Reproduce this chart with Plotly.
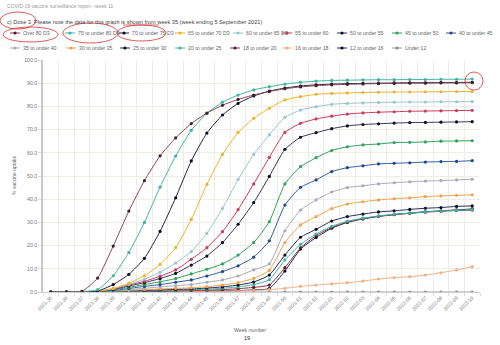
import plotly.graph_objects as go

# ---- data -------------------------------------------------------------
weeks = ["2021-35", "2021-36", "2021-37", "2021-38", "2021-39", "2021-40", "2021-41",
         "2021-42", "2021-43", "2021-44", "2021-45", "2021-46", "2021-47", "2021-48",
         "2021-49", "2021-50", "2021-51", "2021-52", "2022-01", "2022-02", "2022-03",
         "2022-04", "2022-05", "2022-06", "2022-07", "2022-08", "2022-09", "2022-10"]

over_80 = [0, 0, 0.3, 6.0, 19.8, 34.9, 48.0, 58.7, 66.4, 72.6, 77.1, 80.5, 83.0, 84.9,
           86.4, 87.6, 88.4, 88.9, 89.3, 89.5, 89.7, 89.8, 89.9, 90.0, 90.0, 90.1, 90.1, 90.2]
age_75_80 = [0, 0, 0.2, 1.0, 7.0, 17.0, 30.0, 45.2, 58.6, 69.7, 77.0, 81.8, 84.9, 87.1,
             88.5, 89.6, 90.4, 90.9, 91.2, 91.3, 91.4, 91.5, 91.5, 91.6, 91.6, 91.7, 91.7, 91.8]
age_70_75 = [0, 0, 0.1, 0.4, 3.2, 7.6, 14.5, 26.1, 40.6, 56.5, 68.5, 76.3, 81.3, 84.5,
             86.6, 87.9, 88.8, 89.3, 89.6, 89.8, 89.9, 90.0, 90.1, 90.2, 90.2, 90.3, 90.3, 90.4]
age_65_70 = [0, 0, 0.1, 0.3, 1.5, 3.8, 7.0, 11.9, 19.1, 31.3, 46.4, 59.3, 68.8, 74.9,
             79.2, 82.8, 84.2, 85.2, 85.6, 85.8, 86.0, 86.1, 86.2, 86.2, 86.3, 86.3, 86.4, 86.4]
age_60_65 = [0, 0, 0.1, 0.3, 1.5, 3.3, 5.5, 8.5, 12.5, 17.4, 25.3, 36.0, 48.5, 59.3,
             67.7, 75.3, 78.4, 79.9, 80.9, 81.3, 81.5, 81.7, 81.8, 81.9, 81.9, 82.0, 82.0, 82.1]
age_55_60 = [0, 0, 0.1, 0.2, 1.3, 3.0, 4.6, 6.8, 9.5, 14.1, 19.1, 26.0, 35.5, 46.6,
             58.0, 68.8, 72.7, 74.6, 75.8, 76.7, 77.2, 77.5, 77.7, 77.9, 78.0, 78.1, 78.2, 78.3]
age_50_55 = [0, 0, 0.1, 0.2, 1.1, 2.6, 4.0, 5.8, 8.0, 11.6, 15.5, 21.3, 29.2, 38.5,
             49.8, 61.5, 66.7, 68.7, 70.4, 71.6, 72.2, 72.5, 72.8, 73.0, 73.1, 73.2, 73.3, 73.4]
age_45_50 = [0, 0, 0.1, 0.2, 0.9, 2.0, 3.2, 4.4, 5.8, 7.8, 9.8, 12.1, 15.9, 21.3,
             30.3, 46.6, 54.0, 57.9, 61.0, 62.6, 63.4, 63.8, 64.4, 64.5, 64.7, 65.0, 65.1, 65.2]
age_40_45 = [0, 0, 0, 0.1, 0.6, 1.5, 2.4, 3.2, 4.2, 5.2, 6.9, 8.8, 11.3, 15.0,
             22.1, 37.5, 45.1, 48.3, 51.9, 53.6, 54.4, 55.2, 55.5, 55.7, 56.0, 56.2, 56.3, 56.6]
age_35_40 = [0, 0, 0, 0.1, 0.4, 1.0, 1.6, 2.2, 2.7, 3.2, 4.2, 5.2, 6.9, 9.5,
             12.1, 26.4, 35.3, 39.7, 43.1, 45.0, 45.8, 46.6, 47.1, 47.5, 47.8, 48.0, 48.3, 48.6]
age_30_35 = [0, 0, 0, 0.1, 0.3, 0.7, 1.0, 1.3, 1.6, 1.8, 2.3, 3.0, 4.0, 5.9,
             9.3, 21.3, 28.9, 32.5, 35.9, 37.9, 38.9, 39.7, 40.2, 40.6, 41.1, 41.4, 41.7, 41.9]
age_25_30 = [0, 0, 0, 0, 0.2, 0.5, 0.7, 0.9, 1.1, 1.3, 1.7, 2.2, 3.0, 4.3,
             7.3, 15.9, 23.6, 27.0, 30.6, 32.5, 33.6, 34.5, 35.0, 35.6, 36.1, 36.4, 36.9, 37.1]
age_20_25 = [0, 0, 0, 0, 0.1, 0.3, 0.5, 0.7, 0.8, 1.0, 1.2, 1.6, 2.2, 3.2,
             5.3, 13.8, 20.5, 25.0, 28.3, 30.5, 31.8, 32.8, 33.5, 34.0, 34.5, 34.9, 35.2, 35.5]
age_18_20 = [0, 0, 0, 0, 0.1, 0.2, 0.3, 0.4, 0.5, 0.6, 0.8, 1.0, 1.4, 2.0,
             3.0, 10.5, 19.0, 24.3, 27.8, 30.2, 31.6, 32.6, 33.3, 33.9, 34.4, 34.8, 35.1, 35.3]
age_16_18 = [0, 0, 0, 0, 0, 0, 0, 0, 0.1, 0.2, 0.3, 0.4, 0.5, 0.7,
             1.0, 1.6, 2.4, 3.0, 3.5, 4.0, 4.7, 5.6, 6.2, 6.6, 7.3, 8.3, 9.5, 10.9]
age_12_16 = [0, 0, 0, 0, 0, 0.1, 0.1, 0.2, 0.2, 0.3, 0.4, 0.5, 0.6, 0.9,
             1.5, 9.0, 18.5, 23.5, 27.5, 30.0, 31.5, 32.6, 33.4, 34.0, 34.6, 35.0, 35.4, 35.8]
under_12 = [0] * 28

series_names = ["Over 80 D3", "75 to under 80 D3", "70 to under 75 D3", "65 to under 70 D3",
                "60 to under 65 D3", "55 to under 60", "50 to under 55", "45 to under 50",
                "40 to under 45", "35 to under 40", "30 to under 35", "25 to under 30",
                "20 to under 25", "18 to under 20", "16 to under 18", "12 to under 16",
                "Under 12"]
series_values = [over_80, age_75_80, age_70_75, age_65_70, age_60_65, age_55_60, age_50_55,
                 age_45_50, age_40_45, age_35_40, age_30_35, age_25_30, age_20_25, age_18_20,
                 age_16_18, age_12_16, under_12]

y_ticks = [0, 10, 20, 30, 40, 50, 60, 70, 80, 90, 100]

# ---- styling ------------------------------------------------------------
line_colors = ["#8a4556", "#3fb5a1", "#23233f", "#efb22e", "#96c6d0", "#c93a5c", "#33335a",
               "#2f9f5c", "#2f5d9d", "#a9a9b8", "#f0a24f", "#23295a", "#3fb5a1", "#8c2f4a",
               "#f1b283", "#22264f", "#9c9cab"]
marker_colors = ["#4a1f2c", "#3fb5a1", "#0c0c1e", "#efb22e", "#96c6d0", "#c93a5c", "#0c0c1e",
                 "#2f9f5c", "#22457d", "#a9a9b8", "#f0a24f", "#0c0c1e", "#3fb5a1", "#5a1a2e",
                 "#f1b283", "#0c0c1e", "#8a8a9a"]

W, H = 500, 345
FONT = "Liberation Sans, Arial, sans-serif"


def px(x):
    return x / W


def py(y):
    return 1 - y / H


fig = go.Figure()

# draw youngest first so older groups sit on top
for name, vals, lc, mc in reversed(list(zip(series_names, series_values, line_colors, marker_colors))):
    fig.add_trace(go.Scatter(
        x=weeks, y=vals, name=name, mode="lines+markers",
        line=dict(color=lc, width=1, shape="spline", smoothing=0.5),
        marker=dict(color=mc, size=3.2, line=dict(width=0)),
        showlegend=False,
    ))

# ---- custom legend (two rows) --------------------------------------------
legend_x_row1 = [15, 70, 124, 180, 238, 287, 342, 397, 451]
legend_x_row2 = [15, 71, 125, 180, 235, 287, 342, 397]
legend_pos = [(x, 33) for x in legend_x_row1] + [(x, 48) for x in legend_x_row2]

shapes = []
annotations = []
for (lx, ly), name, lc, mc in zip(legend_pos, series_names, line_colors, marker_colors):
    shapes.append(dict(type="line", xref="paper", yref="paper",
                       x0=px(lx - 5), x1=px(lx + 5), y0=py(ly), y1=py(ly),
                       line=dict(color=lc, width=1)))
    shapes.append(dict(type="circle", xref="paper", yref="paper",
                       x0=px(lx - 1.6), x1=px(lx + 1.6), y0=py(ly - 1.6), y1=py(ly + 1.6),
                       fillcolor=mc, line=dict(width=0)))
    annotations.append(dict(text=name, xref="paper", yref="paper", x=px(lx + 6), y=py(ly),
                            xanchor="left", yanchor="middle", showarrow=False,
                            font=dict(size=5.2, color="#666666", family=FONT)))

# ---- header, titles, page number -----------------------------------------
annotations += [
    dict(text="COVID-19 vaccine surveillance report - week 11", xref="paper", yref="paper",
         x=px(5), y=py(6), xanchor="left", yanchor="middle", showarrow=False,
         font=dict(size=5, color="#9a9a9a", family=FONT)),
    dict(text="c) Dose 3. Please note the data for this graph is shown from week 35 (week ending 5 September 2021)",
         xref="paper", yref="paper", x=px(5), y=py(22), xanchor="left", yanchor="middle",
         showarrow=False, font=dict(size=5.6, color="#444444", family=FONT)),
    dict(text="% vaccine uptake", xref="paper", yref="paper", x=px(14), y=py(176),
         textangle=-90, xanchor="center", yanchor="middle", showarrow=False,
         font=dict(size=5, color="#666666", family=FONT)),
    dict(text="Week number", xref="paper", yref="paper", x=px(250), y=py(330),
         xanchor="center", yanchor="middle", showarrow=False,
         font=dict(size=5.2, color="#666666", family=FONT)),
    dict(text="19", xref="paper", yref="paper", x=px(247), y=py(338),
         xanchor="center", yanchor="middle", showarrow=False,
         font=dict(size=5.6, color="#333333", family=FONT)),
]

# ---- hand-drawn red markup rings -----------------------------------------
red = "rgba(210,40,40,0.85)"
for x0, y0, x1, y1 in [(0, 12, 36, 29), (3, 27, 58, 42), (63, 23, 118, 43),
                       (117, 25, 166, 41), (465, 72, 483, 90)]:
    shapes.append(dict(type="circle", xref="paper", yref="paper",
                       x0=px(x0), x1=px(x1), y0=py(y1), y1=py(y0),
                       line=dict(color=red, width=0.9)))
shapes.append(dict(type="line", xref="paper", yref="paper", x0=px(123), x1=px(159),
                   y0=py(25), y1=py(25), line=dict(color=red, width=0.8)))

grid = "#efeee6"
fig.update_layout(
    width=W, height=H,
    margin=dict(l=0, r=0, t=0, b=0),
    paper_bgcolor="white", plot_bgcolor="white",
    shapes=shapes, annotations=annotations,
    showlegend=False,
    xaxis=dict(
        type="category", domain=[px(43), px(480)], range=[-0.5, 27.5],
        tickson="boundaries", ticks="outside", ticklen=3, tickcolor="#dddddd",
        showgrid=True, gridcolor=grid, gridwidth=1,
        showline=True, linecolor="#d0d0d0", linewidth=1,
        tickangle=-45, tickfont=dict(size=5, color="#777777", family=FONT),
        automargin=False, zeroline=False,
    ),
    yaxis=dict(
        domain=[py(292), py(60)], range=[0, 100],
        tickvals=y_ticks, tickformat=".1f",
        ticks="outside", ticklen=3, tickcolor="#dddddd",
        showgrid=True, gridcolor=grid, gridwidth=1,
        showline=True, linecolor="#c8c8c8", linewidth=1.5,
        tickfont=dict(size=5.2, color="#777777", family=FONT),
        automargin=False, zeroline=False,
    ),
)

fig.write_html("out.html")
